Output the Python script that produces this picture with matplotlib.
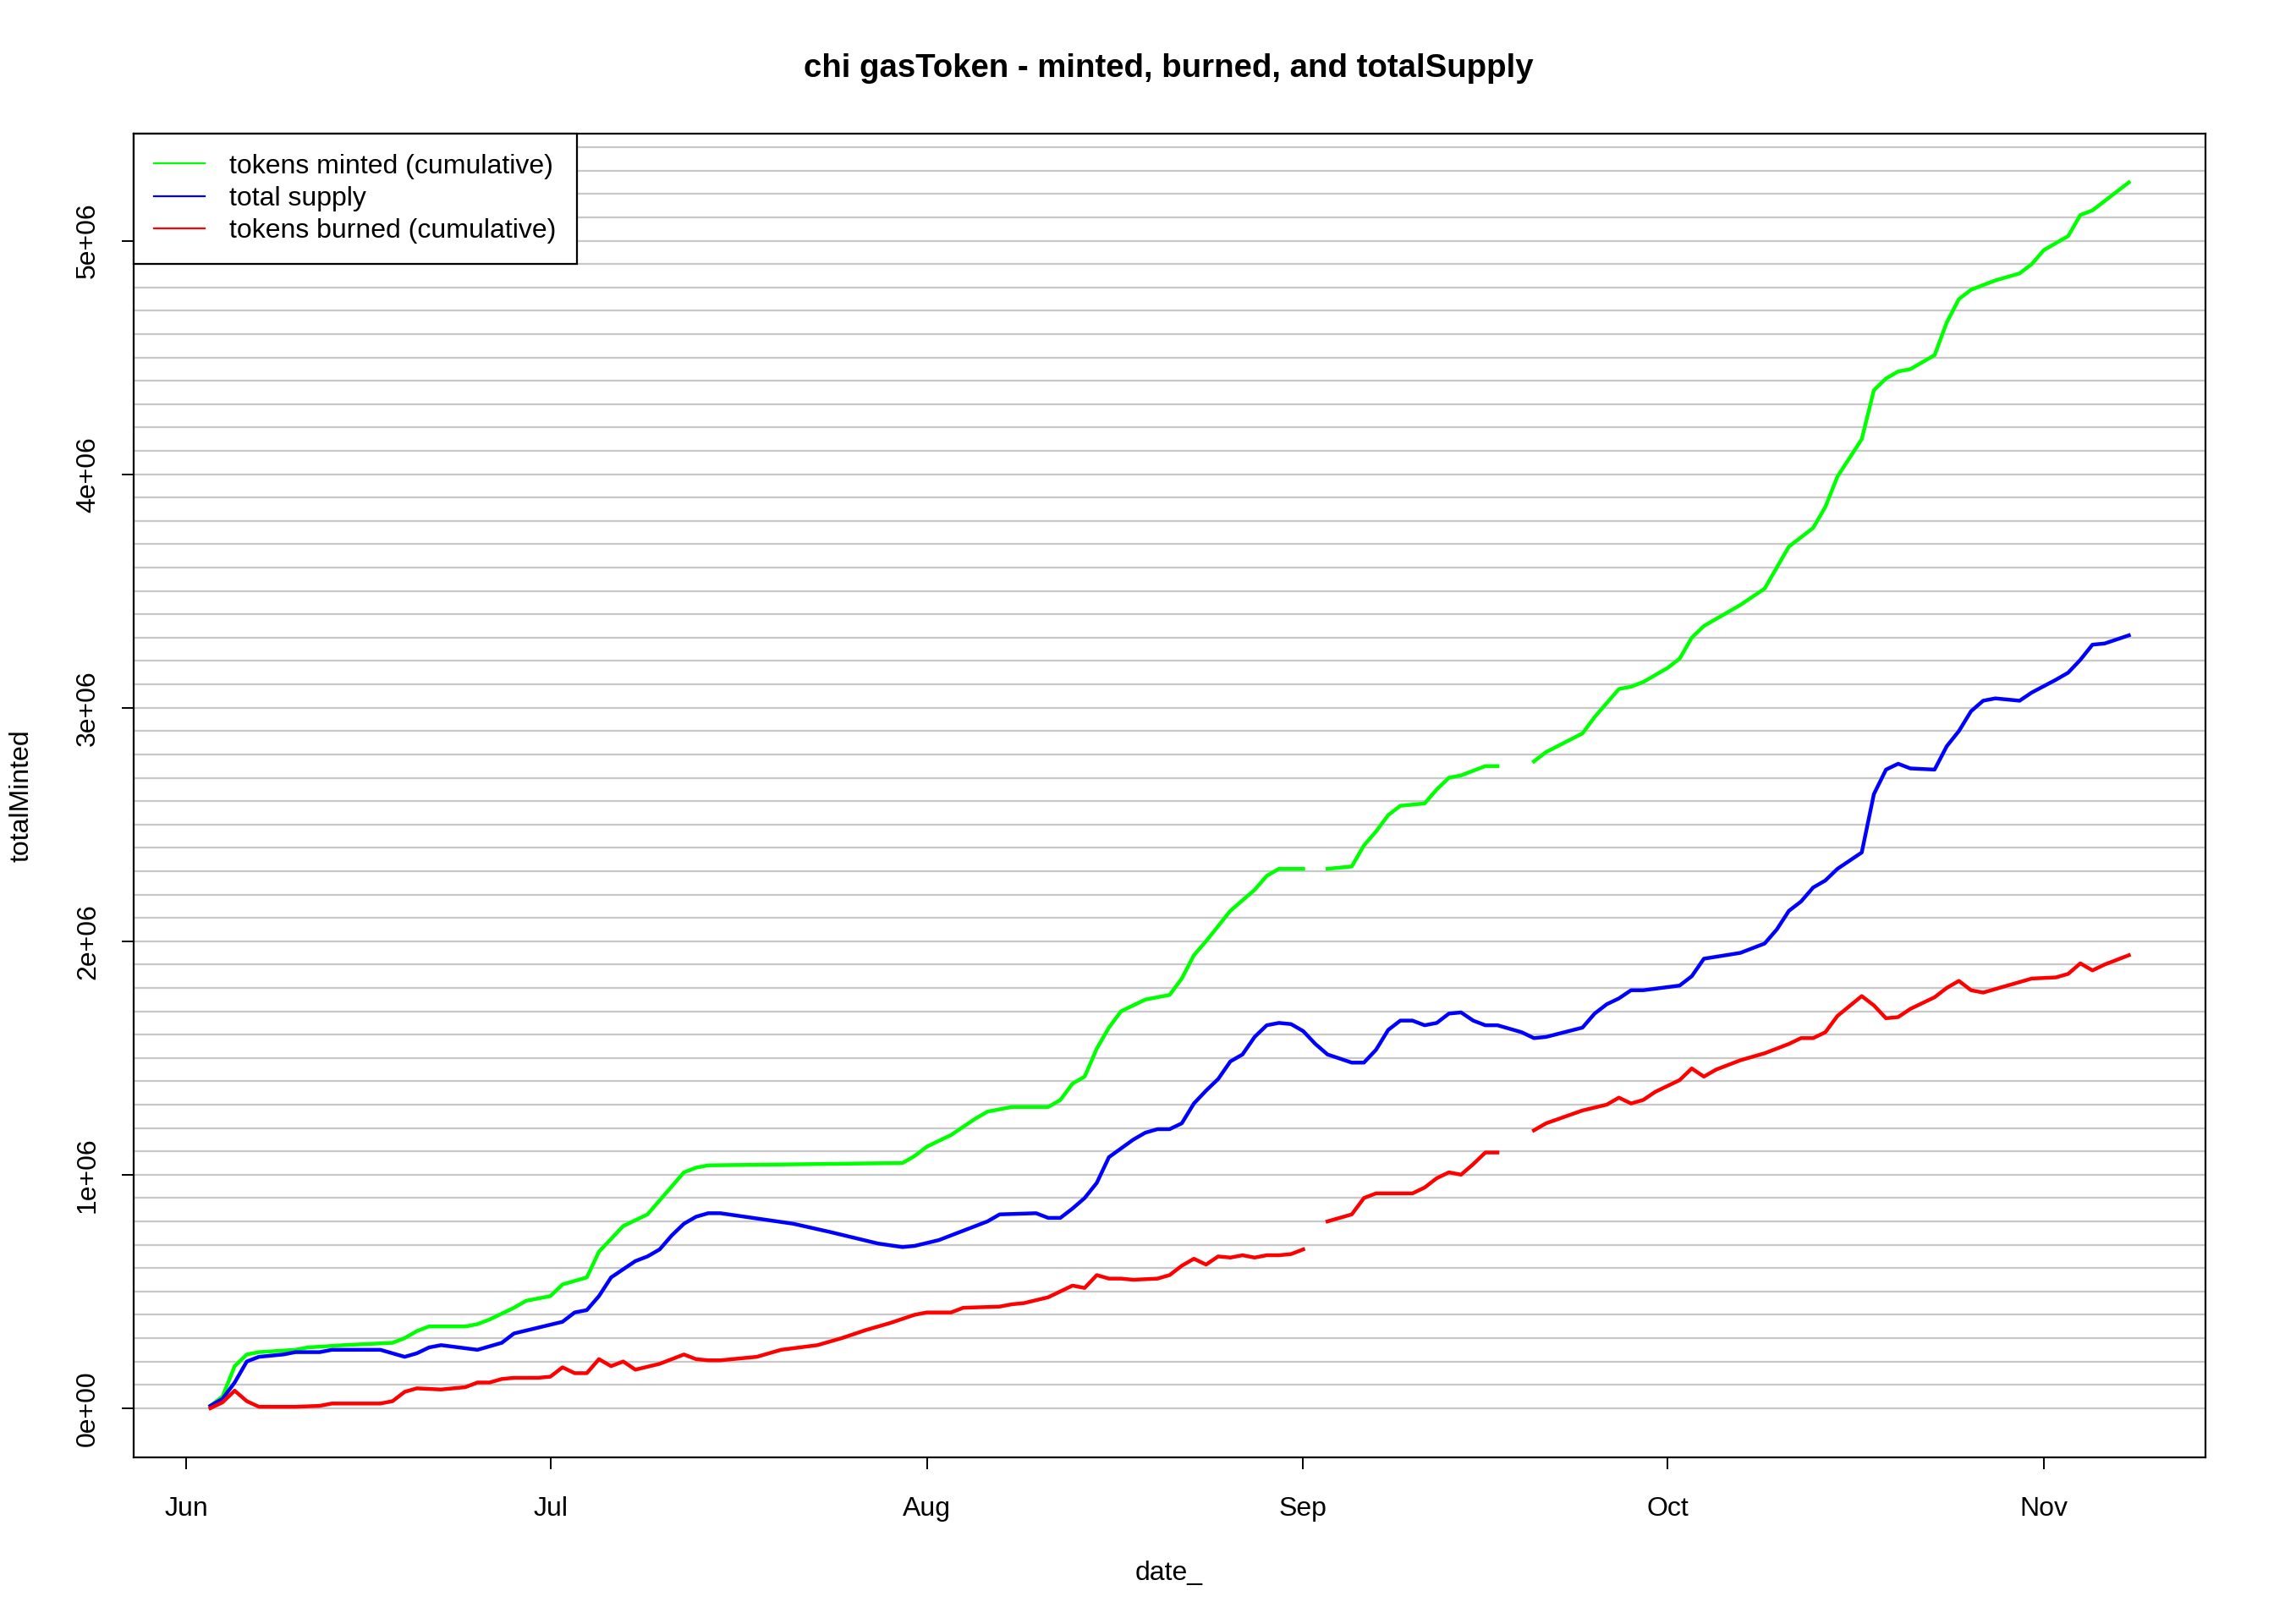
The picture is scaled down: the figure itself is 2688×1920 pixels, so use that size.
import numpy as np
import matplotlib
matplotlib.use("Agg")
import matplotlib.pyplot as plt
from matplotlib.lines import Line2D
from matplotlib.ticker import FuncFormatter

plt.rcParams['font.family'] = ['Liberation Sans', 'DejaVu Sans']

start = np.datetime64('2020-06-01')
nan = np.nan

# day offsets from 1 Jun 2020, values in millions of tokens
minted_days = [2, 3, 4, 5, 6, 9, 10, 13, 17, 18, 19, 20, 23, 24, 25, 27, 28, 30, 31, 33,
               34, 36, 38, 39, 41, 42, 43, 59, 60, 61, 63, 65, 66, 68, 71, 72, 73, 74, 75, 76,
               77, 79, 81, 82, 83, 84, 86, 88, 89, 90, 92, 93, 94, 96, 97, 98, 99, 100, 102, 103,
               104, 105, 106, 107, 108, 109, 111, 112, 115, 116, 118, 119, 120, 122, 123, 124, 125, 126, 128, 130,
               131, 132, 134, 135, 136, 138, 139, 140, 141, 142, 144, 145, 146, 147, 148, 149, 151, 152, 153, 155,
               156, 157, 158, 160]
minted = [0.01, 0.05, 0.18, 0.23, 0.24, 0.25, 0.26, 0.27, 0.28, 0.30, 0.33, 0.35, 0.35, 0.36, 0.38, 0.43, 0.46, 0.48, 0.53, 0.56,
          0.67, 0.78, 0.83, 0.89, 1.01, 1.03, 1.04, 1.05, 1.08, 1.12, 1.17, 1.24, 1.27, 1.29, 1.29, 1.32, 1.39, 1.42, 1.54, 1.63,
          1.70, 1.75, 1.77, 1.84, 1.94, 2.00, 2.13, 2.22, 2.28, 2.31, 2.31, nan, 2.31, 2.32, 2.41, 2.47, 2.54, 2.58, 2.59, 2.65,
          2.70, 2.71, 2.73, 2.75, 2.75, nan, 2.77, 2.81, 2.89, 2.96, 3.08, 3.09, 3.11, 3.17, 3.21, 3.30, 3.35, 3.38, 3.44, 3.51,
          3.60, 3.69, 3.77, 3.86, 3.99, 4.15, 4.36, 4.41, 4.44, 4.45, 4.51, 4.65, 4.75, 4.79, 4.81, 4.83, 4.86, 4.90, 4.96, 5.02,
          5.11, 5.13, 5.17, 5.25]

supply_days = [2, 3, 4, 5, 6, 8, 9, 11, 12, 13, 16, 17, 18, 19, 20, 21, 24, 25, 26, 27,
               29, 31, 32, 33, 34, 35, 37, 38, 39, 40, 41, 42, 43, 44, 46, 50, 53, 55, 57, 59,
               60, 62, 64, 65, 66, 67, 70, 71, 72, 73, 74, 75, 76, 78, 79, 80, 81, 82, 83, 84,
               85, 86, 87, 88, 89, 90, 91, 92, 93, 94, 96, 97, 98, 99, 100, 101, 102, 103, 104, 105,
               106, 107, 108, 110, 111, 112, 115, 116, 117, 118, 119, 120, 123, 124, 125, 128, 130, 131, 132, 133,
               134, 135, 136, 138, 139, 140, 141, 142, 144, 145, 146, 147, 148, 149, 151, 152, 154, 155, 156, 157,
               158, 160]
supply = [0.01, 0.04, 0.11, 0.20, 0.22, 0.23, 0.24, 0.24, 0.25, 0.25, 0.25, 0.235, 0.22, 0.235, 0.26, 0.27, 0.25, 0.265, 0.28, 0.32,
          0.345, 0.37, 0.41, 0.42, 0.48, 0.56, 0.63, 0.65, 0.68, 0.74, 0.79, 0.82, 0.835, 0.835, 0.82, 0.79, 0.755, 0.73, 0.705, 0.69,
          0.695, 0.72, 0.76, 0.78, 0.80, 0.83, 0.835, 0.815, 0.815, 0.855, 0.90, 0.965, 1.075, 1.15, 1.18, 1.195, 1.195, 1.22, 1.305, 1.36,
          1.41, 1.485, 1.515, 1.59, 1.64, 1.65, 1.645, 1.615, 1.56, 1.515, 1.48, 1.48, 1.535, 1.62, 1.66, 1.66, 1.64, 1.65, 1.69, 1.695,
          1.66, 1.64, 1.64, 1.61, 1.585, 1.59, 1.63, 1.69, 1.73, 1.755, 1.79, 1.79, 1.81, 1.85, 1.925, 1.95, 1.99, 2.05, 2.13, 2.17,
          2.23, 2.26, 2.31, 2.38, 2.63, 2.735, 2.76, 2.74, 2.735, 2.835, 2.90, 2.985, 3.03, 3.04, 3.03, 3.065, 3.12, 3.15, 3.205, 3.27,
          3.275, 3.31]

burned_days = [2, 3, 4, 5, 6, 9, 11, 12, 16, 17, 18, 19, 21, 23, 24, 25, 26, 27, 29, 30,
               31, 32, 33, 34, 35, 36, 37, 39, 40, 41, 42, 43, 44, 47, 49, 52, 54, 56, 58, 60,
               61, 63, 64, 67, 68, 69, 71, 73, 74, 75, 76, 77, 78, 80, 81, 82, 83, 84, 85, 86,
               87, 88, 89, 90, 91, 92, 93, 94, 96, 97, 98, 100, 101, 102, 103, 104, 105, 106, 107, 108,
               109, 111, 112, 115, 117, 118, 119, 120, 121, 123, 124, 125, 126, 128, 130, 132, 133, 134, 135, 136,
               138, 139, 140, 141, 142, 144, 145, 146, 147, 148, 149, 151, 152, 154, 155, 156, 157, 158, 160]
burned = [0.0, 0.025, 0.075, 0.03, 0.006, 0.006, 0.01, 0.02, 0.02, 0.03, 0.07, 0.085, 0.08, 0.09, 0.11, 0.11, 0.125, 0.13, 0.13, 0.135,
          0.175, 0.15, 0.15, 0.21, 0.18, 0.20, 0.165, 0.19, 0.21, 0.23, 0.21, 0.205, 0.205, 0.22, 0.25, 0.27, 0.30, 0.335, 0.365, 0.40,
          0.41, 0.41, 0.43, 0.435, 0.445, 0.45, 0.475, 0.525, 0.515, 0.57, 0.555, 0.555, 0.55, 0.555, 0.57, 0.61, 0.64, 0.615, 0.65, 0.645,
          0.655, 0.645, 0.655, 0.655, 0.66, 0.68, nan, 0.80, 0.83, 0.90, 0.92, 0.92, 0.92, 0.945, 0.985, 1.01, 1.00, 1.045, 1.095, 1.095,
          nan, 1.19, 1.22, 1.275, 1.30, 1.33, 1.305, 1.32, 1.355, 1.405, 1.455, 1.42, 1.45, 1.49, 1.52, 1.56, 1.585, 1.585, 1.61, 1.68,
          1.765, 1.725, 1.67, 1.675, 1.71, 1.76, 1.80, 1.83, 1.79, 1.78, 1.795, 1.825, 1.84, 1.845, 1.86, 1.905, 1.875, 1.90, 1.94]

month_ticks = ['2020-06-01', '2020-07-01', '2020-08-01', '2020-09-01', '2020-10-01', '2020-11-01']
month_labels = ['Jun', 'Jul', 'Aug', 'Sep', 'Oct', 'Nov']
y_ticks = [0, 1e6, 2e6, 3e6, 4e6, 5e6]


def to_dates(days):
    return start + np.array(days).astype('timedelta64[D]')


fig = plt.figure(figsize=(13.44, 9.6), dpi=200)
ax = fig.add_axes([0.0587, 0.1027, 0.9113, 0.8152])

for h in np.arange(0, 6e6, 1e5):
    ax.axhline(h, color='#c8c8c8', lw=0.8, zorder=1)

ax.plot(to_dates(minted_days), np.array(minted) * 1e6, color='#00ff00', lw=1.6, zorder=3)
ax.plot(to_dates(supply_days), np.array(supply) * 1e6, color='#0000ff', lw=1.6, zorder=3)
ax.plot(to_dates(burned_days), np.array(burned) * 1e6, color='#ff0000', lw=1.6, zorder=3)

# R style 4% padding on both axes
d0, d1 = min(minted_days), max(minted_days)
pad = (d1 - d0) * 0.04
ax.set_xlim(start + np.timedelta64(int(round((d0 - pad) * 24)), 'h'),
            start + np.timedelta64(int(round((d1 + pad) * 24)), 'h'))
ymax = np.nanmax(minted) * 1e6
ax.set_ylim(-ymax * 0.04, ymax * 1.04)

ax.set_xticks([np.datetime64(t) for t in month_ticks])
ax.set_xticklabels(month_labels)
ax.set_yticks(y_ticks)
ax.yaxis.set_major_formatter(FuncFormatter(lambda v, p: '%.0e' % v))
ax.tick_params(axis='both', direction='out', length=5, width=0.7, labelsize=11.5)
ax.tick_params(axis='x', pad=11.5)
ax.tick_params(axis='y', pad=9)
plt.setp(ax.get_yticklabels(), rotation=90, va='center')
for s in ax.spines.values():
    s.set_linewidth(0.8)

handles = [Line2D([], [], color='#00ff00', lw=0.8),
           Line2D([], [], color='#0000ff', lw=0.8),
           Line2D([], [], color='#ff0000', lw=0.8)]
leg = ax.legend(handles, ['tokens minted (cumulative)', 'total supply', 'tokens burned (cumulative)'],
                loc='upper left', bbox_to_anchor=(0, 1), borderaxespad=0, fancybox=False,
                edgecolor='black', framealpha=1, fontsize=11.5, handlelength=1.9,
                handletextpad=0.9, labelspacing=0.26, borderpad=0.75)
leg.get_frame().set_linewidth(0.8)
leg.set_zorder(5)

fig.text(0.514, 0.958, 'chi gasToken - minted, burned, and totalSupply',
         ha='center', va='center', fontsize=13.8, fontweight='bold')
fig.text(0.514, 0.0312, 'date_', ha='center', va='center', fontsize=11.5)
fig.text(0.0096, 0.5103, 'totalMinted', ha='center', va='center', rotation=90, fontsize=11.5)

fig.savefig('out.png', dpi=200)
